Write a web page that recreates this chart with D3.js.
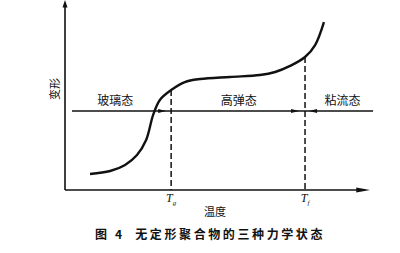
<!DOCTYPE html>
<html>
<head>
<meta charset="utf-8">
<script src="https://cdn.jsdelivr.net/npm/d3@7"></script>
<style>
  body { margin: 0; background: #fff; }
  svg { display: block; }
  .cjk { font-family: "Noto Sans CJK SC", sans-serif; fill: #111; }
</style>
</head>
<body>
<div id="chart"></div>
<script>
// Datos de la curva (temperatura, deformación) en unidades arbitrarias
let temperatura = [8.2, 14.8, 19.7, 23.6, 26.6, 28.9, 31.1, 34.8, 39.3, 44.3, 54.1, 63.9, 68.9, 73.8, 78.7, 82.0, 84.9];
let deformacion = [8.4, 10.0, 13.2, 18.4, 26.3, 39.5, 47.4, 52.6, 56.8, 58.4, 59.5, 60.5, 62.1, 65.3, 70.0, 76.3, 88.4];

// Temperaturas de transición
let transLabels = ['g', 'f'];
let transValues = [34.8, 78.7];

// Estados y su posición horizontal
let estados = ['玻璃态', '高弹态', '粘流态'];
let estadosX = [16.5, 57, 91];
let nivelLinea = 41.6;

let ejeX = '温度', ejeY = '变形';
let titulo = '图 4  无定形聚合物的三种力学状态';

let width = 400, height = 253;
let svg = d3.select('#chart').append('svg')
    .attr('width', width)
    .attr('height', height);

let x = d3.scaleLinear().domain([0, 100]).range([65, 370]);
let y = d3.scaleLinear().domain([0, 100]).range([190, 0]);

let puntos = temperatura.map(function(d, i) { return [d, deformacion[i]]; });
let interp = d3.scaleLinear().domain(temperatura).range(deformacion);

// Ejes con flecha
svg.append('line')
    .attr('x1', x(0)).attr('y1', y(0))
    .attr('x2', x(0)).attr('y2', y(98))
    .attr('stroke', '#111').attr('stroke-width', 1.6);
svg.append('path')
    .attr('d', d3.line()([[x(0) - 2.5, y(96)], [x(0), y(100)], [x(0) + 2.5, y(96)]]) + 'Z')
    .attr('fill', '#111');

svg.append('line')
    .attr('x1', x(0)).attr('y1', y(0))
    .attr('x2', x(97)).attr('y2', y(0))
    .attr('stroke', '#111').attr('stroke-width', 1.6);
svg.append('path')
    .attr('d', d3.line()([[x(95.5), y(0) - 2.5], [x(100), y(0)], [x(95.5), y(0) + 2.5]]) + 'Z')
    .attr('fill', '#111');

// Línea horizontal de estados
svg.append('line')
    .attr('x1', x(2.3)).attr('y1', y(nivelLinea))
    .attr('x2', x(101)).attr('y2', y(nivelLinea))
    .attr('stroke', '#111').attr('stroke-width', 1.5);

// Líneas de transición discontinuas
transValues.forEach(function(t, i) {
    svg.append('line')
        .attr('x1', x(t)).attr('y1', y(interp(t)))
        .attr('x2', x(t)).attr('y2', y(0))
        .attr('stroke', '#111').attr('stroke-width', 1.5)
        .attr('stroke-dasharray', '6,3');

    let label = svg.append('text')
        .attr('x', x(t)).attr('y', y(0) + 12)
        .attr('text-anchor', 'middle')
        .style('font-family', '"Liberation Serif", serif')
        .style('font-style', 'italic')
        .style('font-size', '12px')
        .attr('fill', '#111');
    label.append('tspan').text('T');
    label.append('tspan').attr('dy', 3).style('font-size', '7px').text(transLabels[i]);
});

// Flechas sobre la línea de estados
let flecha = function(tip, dir) {
    let yy = y(nivelLinea);
    svg.append('path')
        .attr('d', d3.line()([[tip, yy], [tip - dir * 8, yy - 2], [tip - dir * 8, yy + 2]]) + 'Z')
        .attr('fill', '#111');
};
flecha(x(transValues[0]) - 5, 1);
flecha(x(transValues[1]) - 6, 1);
flecha(x(transValues[1]) + 4, -1);

// Curva
svg.append('path')
    .datum(puntos)
    .attr('d', d3.line()
        .x(function(d) { return x(d[0]); })
        .y(function(d) { return y(d[1]); })
        .curve(d3.curveCatmullRom))
    .attr('fill', 'none')
    .attr('stroke', '#111')
    .attr('stroke-width', 2.4);

// Etiquetas de estado
svg.selectAll('.estado')
    .data(estados)
    .enter()
    .append('text')
    .attr('class', 'cjk estado')
    .attr('x', function(d, i) { return x(estadosX[i]); })
    .attr('y', y(nivelLinea) - 6)
    .attr('text-anchor', 'middle')
    .style('font-size', '12px')
    .text(function(d) { return d; });

// Títulos de ejes
svg.append('text')
    .attr('class', 'cjk')
    .attr('transform', 'translate(' + (x(0) - 6) + ',' + 89 + ') rotate(-90)')
    .attr('text-anchor', 'middle')
    .style('font-size', '11px')
    .text(ejeY);

svg.append('text')
    .attr('class', 'cjk')
    .attr('x', 215).attr('y', 216)
    .attr('text-anchor', 'middle')
    .style('font-size', '11px')
    .text(ejeX);

// Pie de figura
svg.append('text')
    .attr('class', 'cjk')
    .attr('x', 95).attr('y', 239)
    .style('font-size', '12px')
    .style('font-weight', 'bold')
    .style('letter-spacing', '2.6px')
    .style('white-space', 'pre')
    .attr('xml:space', 'preserve')
    .text(titulo);
</script>
</body>
</html>
